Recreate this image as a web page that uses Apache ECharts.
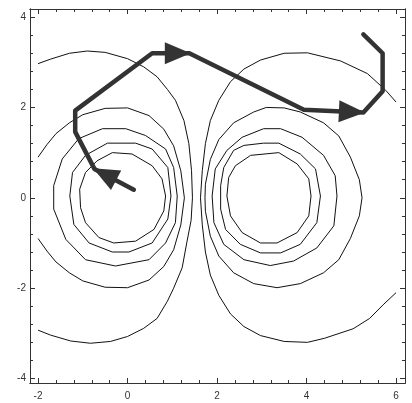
<!DOCTYPE html>
<html><head><meta charset="utf-8">
<script src="https://cdn.jsdelivr.net/npm/echarts@6/dist/echarts.min.js"></script>
<style>html,body{margin:0;padding:0;background:#fff}#c{width:412px;height:403px}</style>
</head><body><div id="c"></div>
<script>
// ---- tick labels / tick positions ----
const xMajorTicks = [-2, 0, 2, 4, 6];
const xMinorTicks = [-1.6,-1.2,-0.8,-0.4,0.4,0.8,1.2,1.6,2.4,2.8,3.2,3.6,4.4,4.8,5.2,5.6];
const yMajorTicks = [-4, -2, 0, 2, 4];
const yMinorTicks = [-3.6,-3.2,-2.8,-2.4,-1.6,-1.2,-0.8,-0.4,0.4,0.8,1.2,1.6,2.4,2.8,3.2,3.6];

// ---- contour lines, left group ----
const contourL1 = [[-0.34,1.0],[0.1,0.97],[0.55,0.71],[0.77,0.42],[0.85,0.04],[0.81,-0.29],[0.59,-0.7],[0.18,-0.96],[-0.31,-1.0],[-0.64,-0.88],[-0.94,-0.55],[-1.05,-0.22],[-1.07,0.19],[-0.94,0.56],[-0.68,0.82],[-0.34,1.0]];
const contourL2 = [[-0.45,1.21],[0.18,1.21],[0.55,1.08],[0.9,0.67],[0.97,0.04],[0.9,-0.47],[0.55,-1.0],[0.03,-1.2],[-0.34,-1.2],[-0.86,-1.0],[-1.2,-0.59],[-1.29,0.04],[-1.23,0.56],[-0.94,0.94],[-0.45,1.21]];
const contourL3 = [[-0.56,1.53],[-0.04,1.53],[0.4,1.38],[0.85,1.08],[1.03,0.67],[1.11,0.04],[1.07,-0.55],[0.85,-1.0],[0.48,-1.37],[-0.27,-1.51],[-0.94,-1.37],[-1.38,-0.92],[-1.65,-0.25],[-1.65,0.27],[-1.46,0.86],[-1.09,1.31],[-0.56,1.53]];
const contourL4 = [[-2.0,0.9],[-1.8,1.18],[-1.6,1.42],[-1.3,1.66],[-1.0,1.84],[-0.5,1.98],[0,1.99],[0.48,1.82],[0.81,1.52],[1.03,1.15],[1.19,0.6],[1.27,0],[1.19,-0.6],[1.03,-1.15],[0.81,-1.52],[0.48,-1.82],[0,-1.99],[-0.5,-1.98],[-1.0,-1.84],[-1.3,-1.66],[-1.6,-1.42],[-1.8,-1.18],[-2.0,-0.9]];
const contourL5 = [[-2.0,2.97],[-1.72,3.07],[-1.3,3.2],[-0.9,3.25],[-0.5,3.22],[0,3.08],[0.36,2.9],[0.66,2.68],[0.89,2.4],[1.07,2.16],[1.26,1.71],[1.37,1.2],[1.43,0.6],[1.45,0],[1.42,-0.5],[1.33,-0.96],[1.22,-1.55],[1.03,-2.0],[0.89,-2.29],[0.66,-2.67],[0.36,-2.89],[0,-3.07],[-0.38,-3.18],[-0.83,-3.22],[-1.27,-3.17],[-1.72,-3.04],[-2.0,-2.93]];

// ---- contour lines, right group ----
const contourR1 = [[2.41,0.71],[2.75,0.94],[3.38,1.0],[3.79,0.75],[4.05,0.42],[4.1,0.04],[4.05,-0.4],[3.79,-0.77],[3.34,-1.0],[2.97,-1.0],[2.56,-0.77],[2.3,-0.4],[2.22,0.04],[2.26,0.45],[2.41,0.71]];
const contourR2 = [[2.6,1.16],[3.04,1.21],[3.38,1.21],[3.86,0.97],[4.2,0.64],[4.31,0.04],[4.23,-0.55],[3.86,-1.03],[3.42,-1.22],[2.97,-1.22],[2.52,-1.03],[2.19,-0.7],[2.08,-0.25],[2.08,0.27],[2.15,0.67],[2.37,1.05],[2.6,1.16]];
const contourR3 = [[3.04,1.53],[3.42,1.53],[3.9,1.34],[4.38,0.94],[4.64,0.49],[4.68,0.04],[4.61,-0.62],[4.23,-1.11],[3.71,-1.4],[3.19,-1.5],[2.6,-1.37],[2.15,-1.03],[1.93,-0.55],[1.89,0.04],[1.96,0.64],[2.22,1.05],[2.56,1.34],[3.04,1.53]];
const contourR4 = [[3.1,2.0],[3.5,1.99],[3.86,1.9],[4.38,1.66],[4.72,1.37],[4.98,0.9],[5.18,0.4],[5.24,0],[5.18,-0.4],[4.98,-0.9],[4.72,-1.37],[4.38,-1.66],[3.86,-1.9],[3.34,-1.99],[2.82,-1.9],[2.37,-1.66],[2.04,-1.29],[1.85,-0.85],[1.74,-0.3],[1.73,0],[1.74,0.3],[1.85,0.85],[2.04,1.29],[2.37,1.66],[2.82,1.9],[3.1,2.0]];
const contourR5 = [[6.0,2.12],[5.77,2.38],[5.36,2.75],[4.76,3.03],[4.02,3.21],[3.5,3.2],[2.97,3.05],[2.6,2.85],[2.3,2.57],[2.04,2.16],[1.85,1.71],[1.74,1.2],[1.67,0.6],[1.63,0],[1.67,-0.6],[1.74,-1.2],[1.85,-1.71],[2.04,-2.16],[2.3,-2.57],[2.6,-2.85],[2.97,-3.05],[3.5,-3.18],[4.02,-3.2],[4.4,-3.11],[5.04,-2.9],[5.41,-2.67],[5.71,-2.37],[6.0,-2.1]];

// ---- search path and the segments that end in an arrowhead ----
const pathPoints = [[0.14,0.18],[-0.74,0.64],[-1.17,1.46],[-1.17,1.93],[0.55,3.2],[1.38,3.2],[3.94,1.95],[5.27,1.89],[5.7,2.36],[5.7,3.2],[5.27,3.62]];
const arrowSegments = [[0,1],[4,5],[6,7]];

// ---- styling ----
const X_MIN = -2.18, X_MAX = 6.2, Y_MIN = -4.1, Y_MAX = 4.18;
const FRAME = '#333';
const CONTOUR_COLOR = '#111';
const PATH_COLOR = '#333';
const ARROW_LEN = 26, ARROW_HALF = 11;
const FONT = {fontSize: 10, color: '#333', fontFamily: 'Liberation Sans'};

function makeAxis(kind, pos, ticks, len, labels) {
  const isX = kind === 'x';
  return {
    type: 'value', position: pos, gridIndex: 0,
    min: isX ? X_MIN : Y_MIN, max: isX ? X_MAX : Y_MAX,
    axisLine: {show: true, onZero: false, lineStyle: {color: FRAME, width: 1}},
    axisTick: {show: true, inside: true, length: len, customValues: ticks, lineStyle: {color: FRAME, width: 1}},
    axisLabel: Object.assign({show: !!labels, customValues: labels || [], margin: isX ? 8 : 4}, FONT),
    splitLine: {show: false}, minorTick: {show: false}, minorSplitLine: {show: false}
  };
}

const contours = [contourL1, contourL2, contourL3, contourL4, contourL5,
                  contourR1, contourR2, contourR3, contourR4, contourR5];

const series = contours.map(c => ({
  type: 'line', data: c, xAxisIndex: 0, yAxisIndex: 0,
  showSymbol: false, symbol: 'none', silent: true, clip: true, z: 2,
  lineStyle: {color: CONTOUR_COLOR, width: 1}
}));

series.push({
  type: 'line', data: pathPoints, xAxisIndex: 0, yAxisIndex: 0,
  showSymbol: false, symbol: 'none', silent: true, z: 5,
  lineStyle: {color: PATH_COLOR, width: 4.5, cap: 'round', join: 'round'}
});

series.push({
  type: 'custom', xAxisIndex: 0, yAxisIndex: 0, z: 6, silent: true,
  encode: {x: [0, 2], y: [1, 3]},
  data: arrowSegments.map(([i, j]) => [pathPoints[i][0], pathPoints[i][1], pathPoints[j][0], pathPoints[j][1]]),
  renderItem: function (params, api) {
    const a = api.coord([api.value(0), api.value(1)]);
    const b = api.coord([api.value(2), api.value(3)]);
    const dx = b[0] - a[0], dy = b[1] - a[1];
    const L = Math.hypot(dx, dy) || 1;
    const ux = dx / L, uy = dy / L;
    const tx = b[0] + ux * 1.5, ty = b[1] + uy * 1.5;
    const bx = tx - ux * ARROW_LEN, by = ty - uy * ARROW_LEN;
    return {
      type: 'polygon',
      shape: {points: [[tx, ty], [bx - uy * ARROW_HALF, by + ux * ARROW_HALF], [bx + uy * ARROW_HALF, by - ux * ARROW_HALF]]},
      style: {fill: PATH_COLOR}
    };
  }
});

const chart = echarts.init(document.getElementById('c'), null, {renderer: 'canvas'});
chart.setOption({
  animation: false,
  backgroundColor: '#fff',
  grid: {left: 30, right: 7, top: 9, bottom: 20, containLabel: false},
  xAxis: [
    makeAxis('x', 'bottom', xMajorTicks, 5, xMajorTicks),
    makeAxis('x', 'bottom', xMinorTicks, 3, null),
    makeAxis('x', 'top', xMajorTicks, 5, null),
    makeAxis('x', 'top', xMinorTicks, 3, null)
  ],
  yAxis: [
    makeAxis('y', 'left', yMajorTicks, 5, yMajorTicks),
    makeAxis('y', 'left', yMinorTicks, 3, null),
    makeAxis('y', 'right', yMajorTicks, 5, null),
    makeAxis('y', 'right', yMinorTicks, 3, null)
  ],
  series: series
});
</script></body></html>
